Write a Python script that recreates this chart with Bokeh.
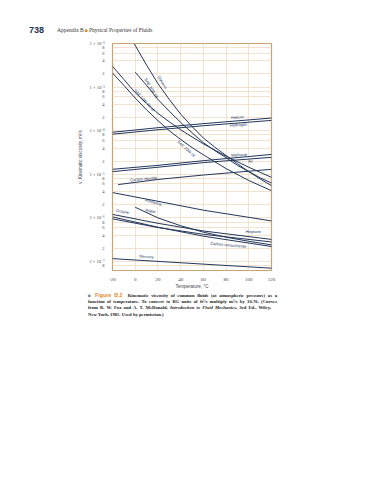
from bokeh.plotting import figure
from bokeh.models import Range1d, FixedTicker, Label, Div
from bokeh.layouts import column
from bokeh.embed import file_html
from bokeh.resources import INLINE

# ---------------- data ----------------
x_ticks = [-20, 0, 20, 40, 60, 80, 100, 120]
x_tick_labels = ["-20", "0", "20", "40", "60", "80", "100", "120"]

y_ticks = [8e-8, 1e-7, 2e-7, 4e-7, 6e-7, 8e-7,
           1e-6, 2e-6, 4e-6, 6e-6, 8e-6,
           1e-5, 2e-5, 4e-5, 6e-5, 8e-5,
           1e-4, 2e-4, 4e-4, 6e-4, 8e-4,
           1e-3, 2e-3, 4e-3, 6e-3, 8e-3, 1e-2]
y_tick_labels = ["8", "1 × 10⁻⁷", "2", "4", "6", "8",
                 "1 × 10⁻⁶", "2", "4", "6", "8",
                 "1 × 10⁻⁵", "2", "4", "6", "8",
                 "1 × 10⁻⁴", "2", "4", "6", "8",
                 "1 × 10⁻³", "2", "4", "6", "8", "1 × 10⁻²"]

glycerin_t = [-1, 10, 20, 30, 40, 50, 60, 70, 80, 90, 100, 110, 120]
glycerin_v = [1.0e-2, 3.2e-3, 1.2e-3, 5.2e-4, 2.4e-4, 1.25e-4, 6.8e-5, 4.2e-5, 2.7e-5, 1.75e-5, 1.15e-5, 7.8e-6, 5.5e-6]

sae30_t = [0, 10, 20, 30, 40, 50, 60, 70, 80, 90, 100, 110, 120]
sae30_v = [2.2e-3, 1.1e-3, 5.2e-4, 2.8e-4, 1.55e-4, 9e-5, 5.3e-5, 3.5e-5, 2.4e-5, 1.6e-5, 1.15e-5, 8.3e-6, 6.3e-6]

sae10w30_t = [-20, -10, 0, 10, 20, 30, 40, 50, 60, 80, 100, 120]
sae10w30_v = [3.0e-3, 1.5e-3, 7.5e-4, 4.2e-4, 2.5e-4, 1.6e-4, 1.05e-4, 7.2e-5, 5e-5, 2.6e-5, 1.45e-5, 8.5e-6]

sae10w_t = [-20, -10, 0, 10, 20, 30, 40, 50, 60, 80, 100, 120]
sae10w_v = [2.1e-3, 1.1e-3, 5.6e-4, 3e-4, 1.7e-4, 1.0e-4, 6.3e-5, 4.1e-5, 2.8e-5, 1.35e-5, 7.2e-6, 4.2e-6]

helium_t = [-20, 20, 60, 120]
helium_v = [9.2e-5, 1.17e-4, 1.45e-4, 1.95e-4]

hydrogen_t = [-20, 20, 60, 120]
hydrogen_v = [8.3e-5, 1.05e-4, 1.3e-4, 1.72e-4]

methane_t = [-20, 20, 60, 120]
methane_v = [1.3e-5, 1.6e-5, 2.05e-5, 2.85e-5]

air_t = [-20, 20, 60, 120]
air_v = [1.15e-5, 1.45e-5, 1.85e-5, 2.45e-5]

co2_t = [-15, 20, 60, 120]
co2_v = [5.8e-6, 7.6e-6, 9.6e-6, 1.3e-5]

ammonia_t = [-20, 20, 60, 120]
ammonia_v = [3.8e-6, 2.4e-6, 1.5e-6, 8.5e-7]

water_t = [0, 20, 40, 60, 80, 100, 120]
water_v = [1.75e-6, 1.0e-6, 6.6e-7, 4.7e-7, 3.6e-7, 2.9e-7, 2.4e-7]

octane_t = [-20, 20, 60, 120]
octane_v = [1.2e-6, 7.5e-7, 5e-7, 3.2e-7]

heptane_t = [-20, 20, 60, 120]
heptane_v = [9.5e-7, 6e-7, 4.2e-7, 2.8e-7]

ccl4_t = [-20, 20, 60, 120]
ccl4_v = [1.05e-6, 6.1e-7, 3.8e-7, 2.2e-7]

mercury_t = [-20, 50, 120]
mercury_v = [1.16e-7, 9e-8, 7e-8]

series = [
    (glycerin_t, glycerin_v), (sae30_t, sae30_v), (sae10w30_t, sae10w30_v),
    (sae10w_t, sae10w_v), (helium_t, helium_v), (hydrogen_t, hydrogen_v),
    (methane_t, methane_v), (air_t, air_v), (co2_t, co2_v),
    (ammonia_t, ammonia_v), (water_t, water_v), (octane_t, octane_v),
    (heptane_t, heptane_v), (ccl4_t, ccl4_v), (mercury_t, mercury_v),
]

# curve labels: text, T, nu, angle
curve_labels = [
    ("Glycerin", 24, 1.3e-3, -60),
    ("SAE 30W oil", 14.3, 9.5e-4, -58),
    ("SAE 10W-30 oil", 8.2, 5e-4, -48),
    ("SAE 10W oil", 45, 3.9e-5, -42),
    ("Helium", 90, 2.04e-4, 4),
    ("Hydrogen", 91, 1.38e-4, 4),
    ("Methane", 91.4, 2.8e-5, 3),
    ("Air", 101.5, 2.0e-5, 3),
    ("Carbon dioxide", 7.3, 7.9e-6, 5),
    ("Ammonia", 16, 2.3e-6, -15),
    ("Water", 13.5, 1.45e-6, -12),
    ("Octane", -11, 1.4e-6, -10),
    ("Heptane", 104, 4.8e-7, 0),
    ("Carbon tetrachloride", 82, 2.4e-7, -5),
    ("Mercury", 10, 1.3e-7, -3),
]

NAVY = "#22365c"
GRID = "#eddcc3"
FRAME = "#c9a26e"

p = figure(x_range=Range1d(-20, 120), y_range=Range1d(6.2e-8, 1e-2),
           y_axis_type="log", frame_width=159, frame_height=227,
           min_border_left=112, min_border_right=87, min_border_top=7,
           min_border_bottom=13, output_backend="svg", toolbar_location=None)
p.background_fill_color = "white"
p.border_fill_color = "white"
p.outline_line_color = FRAME
p.outline_line_width = 1.2

p.xaxis.ticker = FixedTicker(ticks=x_ticks)
p.xaxis.major_label_overrides = dict(zip(x_ticks, x_tick_labels))
p.yaxis.ticker = FixedTicker(ticks=y_ticks)
p.yaxis.major_label_overrides = dict(zip(y_ticks, y_tick_labels))
for ax in (p.xaxis, p.yaxis):
    ax.axis_line_color = None
    ax.major_tick_line_color = None
    ax.minor_tick_line_color = None
    ax.major_label_text_font = "Liberation Serif"
    ax.major_label_text_font_size = "5px"
    ax.major_label_text_color = "#444444"
    ax.major_label_standoff = 1
    ax.axis_label_text_font = "Liberation Sans"
    ax.axis_label_text_font_size = "4.5px"
    ax.axis_label_text_font_style = "normal"
    ax.axis_label_text_color = "#444444"
    ax.axis_label_standoff = 0
p.yaxis.major_label_text_font_size = "4.5px"
p.yaxis.major_label_standoff = 2
p.yaxis.axis_label_standoff = 3
p.xaxis.axis_label = "Temperature, °C"
p.yaxis.axis_label = "ν, Kinematic viscosity, m²/s"

p.xgrid.grid_line_color = GRID
p.ygrid.grid_line_color = GRID
p.xgrid.grid_line_width = 0.8
p.ygrid.grid_line_width = 0.8

for t, v in series:
    p.line(t, v, line_color=NAVY, line_width=1.0)

for txt, t, v, ang in curve_labels:
    p.add_layout(Label(x=t, y=v, text=txt, angle=ang, angle_units="deg",
                       text_align="center", text_baseline="middle",
                       text_font="Liberation Sans", text_font_size="4px",
                       text_color=NAVY))

# ---------------- page header and caption ----------------
SERIF = "'Liberation Serif', serif"
SANS = "'Liberation Sans', sans-serif"

header_html = f"""
<div style="position:relative;width:358px;height:36px;">
 <span style="position:absolute;left:29px;top:24.5px;line-height:10px;font:bold 9px {SANS};color:#1e3050;">738</span>
 <span style="position:absolute;left:57px;top:26.5px;line-height:6px;font:5.5px {SERIF};color:#333;">Appendix B</span>
 <span style="position:absolute;left:84.5px;top:26.5px;line-height:6px;font:5px {SANS};color:#d9822b;">■</span>
 <span style="position:absolute;left:89px;top:26.5px;line-height:6px;font:5.5px {SERIF};color:#333;white-space:nowrap;">Physical Properties of Fluids</span>
</div>
"""

line_style = f"position:absolute;left:88px;width:189px;line-height:6px;font:bold 4.7px {SERIF};color:#222;white-space:nowrap;"
caption_html = f"""
<div style="position:relative;width:358px;height:40px;">
 <div style="{line_style}top:1px;text-align:justify;text-align-last:justify;"><span style="color:#6c7b95;font-family:{SANS};">■</span> <span style="color:#e0892b;font:bold 5.3px {SANS};">Figure B.2</span>&nbsp; Kinematic viscosity of common fluids (at atmospheric pressure) as a</div>
 <div style="{line_style}top:7.5px;text-align:justify;text-align-last:justify;">function of temperature. To convert to BG units of ft²/s multiply m²/s by 10.76. (Curves</div>
 <div style="{line_style}top:14px;width:183px;text-align:justify;text-align-last:justify;">from R. W. Fox and A. T. McDonald, <i>Introduction to Fluid Mechanics</i>, 3rd Ed., Wiley,</div>
 <div style="{line_style}top:20.5px;">New York, 1985. Used by permission.)</div>
</div>
"""

header = Div(text=header_html, width=358, height=36, margin=0)
caption = Div(text=caption_html, width=358, height=40, margin=0)

layout = column(header, p, caption, spacing=0)
open("out.html", "w").write(file_html(layout, INLINE))
